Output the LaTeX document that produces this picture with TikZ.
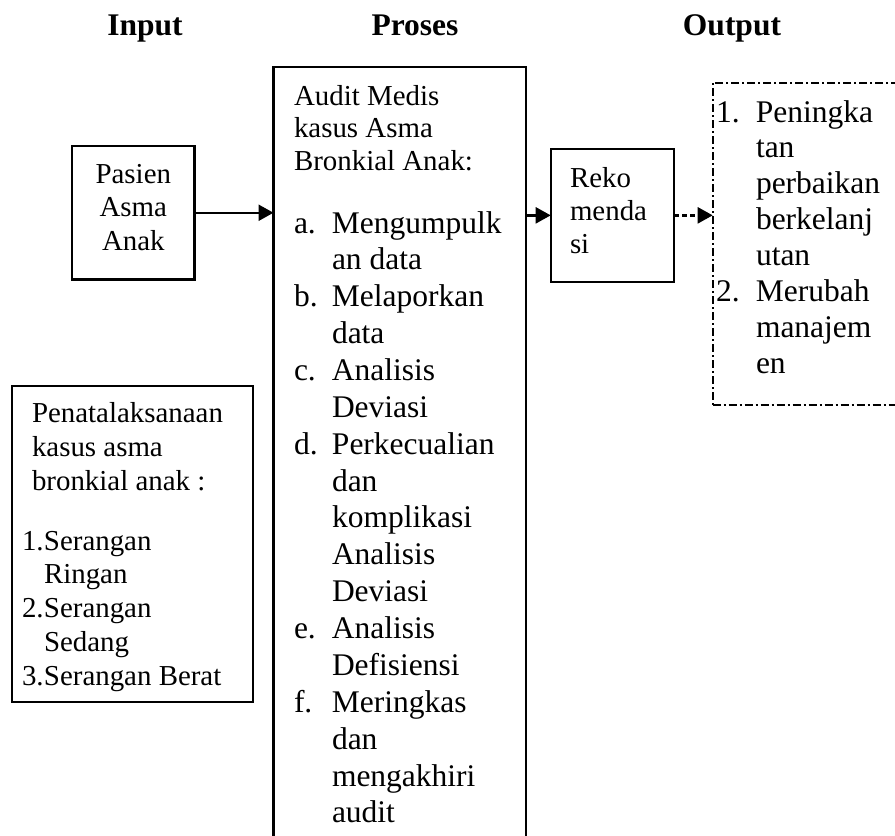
\documentclass[tikz,border=0pt]{standalone}
\usepackage{fontspec}
\setmainfont{Liberation Serif}
\usetikzlibrary{arrows.meta}
% font sizes: 11pt and 12pt text of the original layout, scaled
\newcommand\txtsmall[1]{\fontsize{28.9}{#1}\selectfont}
\newcommand\txtlarge[1]{\fontsize{31.5}{#1}\selectfont}
\begin{document}
\begin{tikzpicture}[x=1pt,y=-1pt,
  frame/.style={draw, line width=2.3pt, inner sep=0pt, outer sep=0pt, anchor=north west},
  dashdot/.style={frame, line width=2pt, dash pattern=on 8pt off 3pt on 2pt off 3pt},
  txt/.style={inner sep=0pt, outer sep=0pt, anchor=base west},
  head/.style={inner sep=0pt, outer sep=0pt, anchor=base, font=\fontsize{31.5}{36}\selectfont\bfseries},
  flow/.style={line width=2.3pt, -{Triangle[length=15pt,width=16pt]}},
  flowdash/.style={flow, dash pattern=on 5pt off 3pt},
]
\useasboundingbox (0,0) rectangle (895,836);
\clip (0,0) rectangle (895,836);

% column titles
\node[head] (tin)  at (145,35) {Input};
\node[head] (tpro) at (415,35) {Proses};
\node[head] (tout) at (732,35) {Output};

% frames
\node[frame, minimum width=122.5pt, minimum height=133.5pt] (pasien) at (72,146) {};
\node[frame, minimum width=241.6pt, minimum height=316pt] (tata) at (11.7,385.7) {};
\node[frame, minimum width=252.8pt, minimum height=820pt] (proses) at (273.5,67) {};
\node[frame, minimum width=123.3pt, minimum height=133.3pt] (reko) at (550.7,148.7) {};
\node[dashdot, minimum width=260pt, minimum height=322.3pt] (hasil) at (712.7,82.7) {};

% input texts
\node[txt, anchor=base] (pasientxt) at (133.3,183) {\txtsmall{33.5}%
  \begin{tabular}[t]{@{}c@{}}Pasien\\Asma\\Anak\end{tabular}};
\node[txt] (tatahead) at (32,422) {\txtsmall{34}%
  \begin{tabular}[t]{@{}l@{}}Penatalaksanaan\\kasus asma\\bronkial anak :\end{tabular}};
\node[txt] (tatalist) at (22,550) {\txtsmall{33.75}%
  \begin{tabular}[t]{@{}p{22pt}@{}l@{}}
  1. & Serangan\\
     & Ringan\\
  2. & Serangan\\
     & Sedang\\
  3. & Serangan Berat
  \end{tabular}};

% process texts
\node[txt] (proseshead) at (294,105) {\txtsmall{32.5}%
  \begin{tabular}[t]{@{}l@{}}Audit Medis\\kasus Asma\\Bronkial Anak:\end{tabular}};
\node[txt] (proseslist) at (294,233) {\txtlarge{36.87}%
  \begin{tabular}[t]{@{}p{38pt}@{}l@{}}
  a. & Mengumpulk\\
     & an data\\
  b. & Melaporkan\\
     & data\\
  c. & Analisis\\
     & Deviasi\\
  d. & Perkecualian\\
     & dan\\
     & komplikasi\\
     & Analisis\\
     & Deviasi\\
  e. & Analisis\\
     & Defisiensi\\
  f. & Meringkas\\
     & dan\\
     & mengakhiri\\
     & audit
  \end{tabular}};

% recommendation text
\node[txt] (rekotxt) at (570,187) {\txtsmall{33}%
  \begin{tabular}[t]{@{}l@{}}Reko\\menda\\si\end{tabular}};

% output texts
\node[txt] (hasillist) at (716,122) {\txtlarge{35.86}%
  \begin{tabular}[t]{@{}p{40pt}@{}l@{}}
  1. & Peningka\\
     & tan\\
     & perbaikan\\
     & berkelanj\\
     & utan\\
  2. & Merubah\\
     & manajem\\
     & en
  \end{tabular}};

% connectors
\draw[flow] (pasien.east) -- (pasien.east -| proses.west);
\draw[flow] (proses.east |- reko.west) -- (reko.west);
\draw[flowdash] (reko.east) -- (reko.east -| hasil.west);
\end{tikzpicture}
\end{document}
